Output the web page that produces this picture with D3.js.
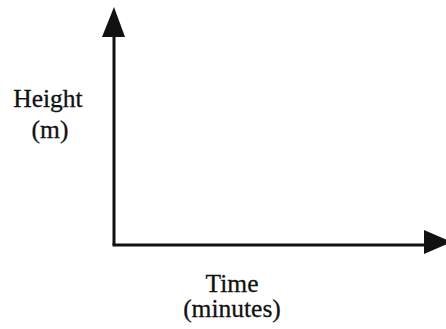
<!DOCTYPE html>
<html lang="en">
<head>
  <meta charset="UTF-8">
  <title>Height vs. Time axes</title>
  <script src="https://d3js.org/d3.v7.min.js"></script>
  <style>
    body { margin: 0; background: #fff; }
    .label {
      font-family: "Liberation Serif", "DejaVu Serif", serif;
      font-size: 25.5px;
      fill: #111;
      stroke: #111;
      stroke-width: 0.3px;
      text-anchor: middle;
    }
  </style>
</head>
<body>
  <div id="chart"></div>
  <script>
    // Axis titles (no data is plotted on this sketch)
    const yTitle = ["Height", "(m)"];
    const xTitle = ["Time", "(minutes)"];
    const xDomain = [0, 1];
    const yDomain = [0, 1];

    const width = 446,
          height = 329;

    const x = d3.scaleLinear().domain(xDomain).range([114, 446]);
    const y = d3.scaleLinear().domain(yDomain).range([245, 7]);

    const svg = d3.select("#chart")
                  .append("svg")
                  .attr("width", width)
                  .attr("height", height);

    // Axis lines
    svg.append("path")
       .attr("d", `M${x(0)},${y(0)}V${y(1) + 28}`)
       .attr("stroke", "#111")
       .attr("stroke-width", 3)
       .attr("fill", "none");

    svg.append("path")
       .attr("d", `M${x(0) - 1.5},${y(0)}H${x(1) - 22}`)
       .attr("stroke", "#111")
       .attr("stroke-width", 3)
       .attr("fill", "none");

    // Arrow heads
    svg.append("path")
       .attr("d", `M${x(0)},${y(1)}L${x(0) + 11},${y(1) + 30}L${x(0) - 12},${y(1) + 30}Z`)
       .attr("fill", "#111");

    svg.append("path")
       .attr("d", `M${x(1) + 6},${y(0) - 3}L${x(1) - 22},${y(0) + 9}L${x(1) - 22},${y(0) - 15}Z`)
       .attr("fill", "#111");

    // Y title
    svg.append("text")
       .attr("class", "label")
       .selectAll("tspan")
       .data(yTitle)
       .join("tspan")
       .attr("x", (d, i) => i === 0 ? 48 : 50)
       .attr("y", (d, i) => i === 0 ? 107 : 138)
       .text(d => d);

    // X title
    svg.append("text")
       .attr("class", "label")
       .selectAll("tspan")
       .data(xTitle)
       .join("tspan")
       .attr("x", 232)
       .attr("y", (d, i) => i === 0 ? 292 : 317)
       .text(d => d);
  </script>
</body>
</html>
